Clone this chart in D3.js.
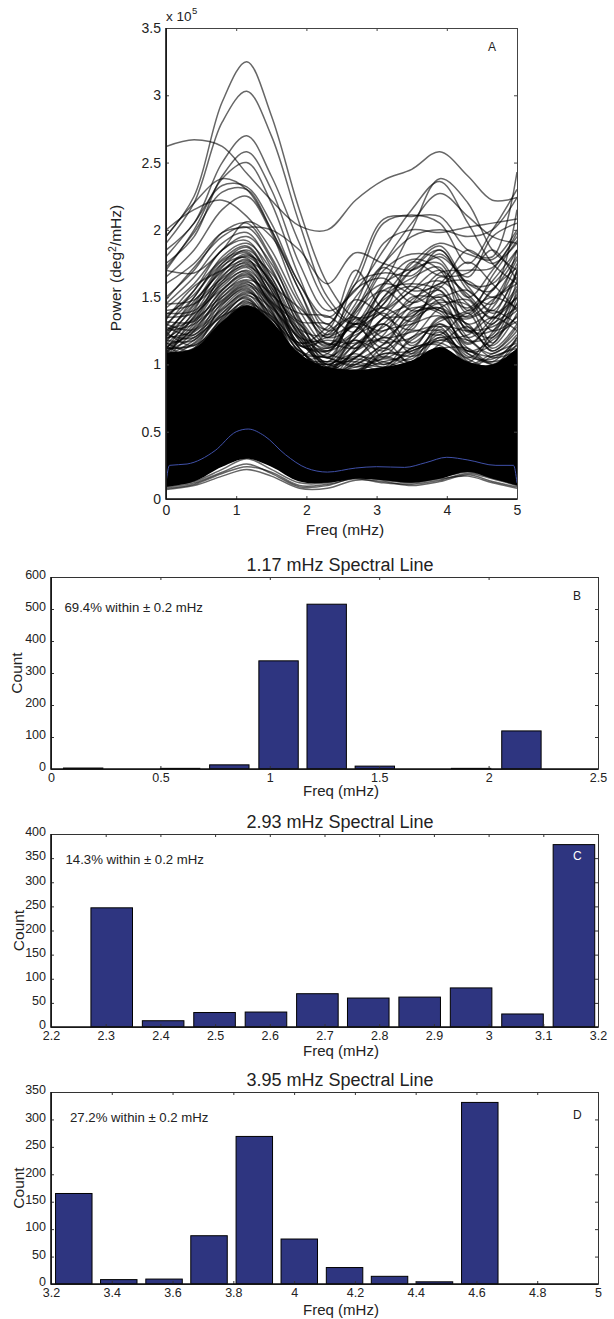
<!DOCTYPE html>
<html><head><meta charset="utf-8">
<script src="https://cdn.jsdelivr.net/npm/d3@7"></script>
<style>html,body{margin:0;background:#fff}svg{display:block}text{font-family:"Liberation Sans",Arial,sans-serif;fill:#222}</style>
</head><body><div id="c"></div>
<script>
// Panel A: frequency knots (mHz) and traces in units of 1e5 deg^2/mHz
const freqKnots=[0,0.4,0.8,1.15,1.5,1.9,2.3,2.7,3.1,3.5,3.9,4.3,4.65,5];
const bandUpper=[1.09,1.12,1.32,1.44,1.32,1.08,0.98,0.96,0.98,1.03,1.13,1.02,1.0,1.12];
const bandLower=[0.09,0.13,0.24,0.3,0.24,0.13,0.12,0.15,0.14,0.12,0.15,0.2,0.15,0.1];
const meanFreq=[0,0.05,0.3,0.7,1.0,1.17,1.4,1.7,2.0,2.3,2.7,3.0,3.4,3.7,4.0,4.3,4.7,4.95,5];
const meanPower=[0.12,0.25,0.26,0.36,0.5,0.52,0.47,0.33,0.23,0.2,0.23,0.24,0.235,0.27,0.31,0.29,0.25,0.25,0.12];
const traces=[
[1.95,2.25,2.95,3.25,2.85,2.15,1.6,1.35,1.4,1.55,1.7,1.5,1.35,1.5],
[1.9,2.2,2.8,3.03,2.7,2.05,1.5,1.3,1.45,1.7,1.85,1.6,1.6,1.85],
[2.62,2.67,2.62,2.42,2.22,2.03,2.0,2.22,2.37,2.45,2.58,2.4,2.22,2.24],
[1.85,2.05,2.5,2.7,2.4,1.9,1.45,1.3,1.6,2.0,2.38,2.2,1.85,1.7],
[1.75,1.95,2.4,2.58,2.3,1.75,1.4,1.55,1.85,2.15,2.36,2.05,1.75,1.6],
[1.7,2.0,2.38,2.5,2.2,1.65,1.25,1.4,1.75,2.05,2.27,2.1,1.95,1.9],
[1.95,2.2,2.38,2.3,2.0,1.6,1.3,1.65,2.08,2.1,2.1,1.85,1.8,2.43],
[1.8,2.05,2.33,2.32,2.05,1.6,1.35,1.6,2.05,2.11,2.05,1.75,2.0,2.3],
[1.72,1.98,2.28,2.3,2.0,1.55,1.22,1.45,1.9,2.0,1.98,2.02,2.05,2.08],
[2.0,2.15,2.22,2.1,1.85,1.45,1.2,1.5,1.75,1.95,2.0,1.95,2.0,2.24],
[1.65,1.85,2.15,2.25,1.98,1.48,1.2,1.3,1.6,1.72,1.88,1.6,1.55,2.15],
[1.6,1.75,1.98,2.02,2.0,1.85,1.6,1.83,1.75,1.7,1.8,1.65,1.95,2.05],
[1.7,1.68,1.85,2.06,1.95,1.55,1.15,1.25,1.5,1.75,1.9,1.82,1.78,2.0],
[1.5,1.7,1.98,2.05,1.8,1.4,1.15,1.35,1.7,1.82,1.78,1.5,1.7,1.95],
[1.48,1.72,1.95,2.02,1.78,1.32,1.05,1.25,1.4,1.6,1.85,1.55,1.45,1.85],
[1.45,1.65,1.9,1.98,1.72,1.3,1.1,1.4,1.72,1.55,1.6,1.85,1.75,1.9],
[1.42,1.6,1.85,1.95,1.75,1.35,1.0,1.2,1.45,1.7,1.75,1.4,1.55,1.8],
[1.35,1.55,1.85,1.92,1.65,1.25,1.12,1.3,1.25,1.45,1.68,1.7,1.72,1.98],
[1.3,1.5,1.8,1.9,1.7,1.28,0.98,1.1,1.35,1.55,1.62,1.45,1.3,1.7],
[1.28,1.55,1.78,1.88,1.62,1.2,1.02,1.25,1.55,1.6,1.55,1.3,1.42,1.75],
[1.25,1.45,1.75,1.87,1.6,1.22,1.08,1.05,1.3,1.48,1.6,1.62,1.5,1.65],
[1.22,1.42,1.72,1.85,1.65,1.25,0.95,1.15,1.2,1.35,1.52,1.42,1.62,1.85],
[1.2,1.5,1.75,1.83,1.58,1.15,1.1,1.32,1.42,1.32,1.58,1.28,1.2,1.55],
[1.18,1.38,1.68,1.82,1.55,1.18,1.0,1.05,1.22,1.5,1.5,1.55,1.38,1.5],
[1.45,1.48,1.7,1.8,1.6,1.22,1.05,1.38,1.55,1.4,1.42,1.2,1.35,1.7],
[1.15,1.35,1.65,1.78,1.5,1.12,0.95,1.1,1.35,1.45,1.55,1.25,1.25,1.45],
[1.12,1.32,1.62,1.76,1.55,1.15,1.1,1.18,1.1,1.28,1.48,1.35,1.48,1.6],
[1.4,1.45,1.62,1.74,1.48,1.08,0.95,1.25,1.48,1.58,1.45,1.1,1.15,1.5],
[1.1,1.3,1.6,1.72,1.46,1.1,1.05,1.0,1.15,1.2,1.42,1.48,1.25,1.35],
[1.35,1.38,1.58,1.7,1.5,1.18,1.0,1.15,1.28,1.42,1.38,1.15,1.32,1.58],
[1.08,1.28,1.55,1.68,1.42,1.02,0.9,1.05,1.2,1.12,1.35,1.3,1.1,1.28],
[1.32,1.32,1.55,1.66,1.4,1.05,1.08,1.3,1.05,1.18,1.32,1.4,1.5,1.42],
[1.05,1.25,1.52,1.65,1.45,1.12,0.92,0.95,1.1,1.3,1.45,1.2,1.08,1.22],
[1.28,1.22,1.5,1.62,1.38,1.0,0.88,1.12,1.3,1.08,1.28,1.25,1.28,1.4],
[1.25,1.3,1.48,1.6,1.35,1.08,1.05,0.98,1.05,1.25,1.22,1.38,1.12,1.3],
[1.22,1.2,1.46,1.58,1.4,0.98,0.9,1.02,1.15,1.38,1.4,1.08,1.02,1.2],
[1.2,1.25,1.45,1.56,1.32,1.02,0.98,1.18,1.0,1.12,1.18,1.22,1.35,1.25],
[1.18,1.18,1.42,1.55,1.3,0.95,0.85,0.92,1.12,1.02,1.3,1.12,1.0,1.15],
[1.15,1.22,1.4,1.54,1.36,1.05,1.0,1.08,0.98,1.2,1.25,1.02,1.2,1.32],
[1.12,1.15,1.38,1.52,1.28,0.92,0.88,1.0,1.08,1.1,1.2,1.18,1.05,1.1],
[1.1,1.2,1.36,1.5,1.25,1.0,0.95,1.1,1.18,1.0,1.15,1.28,1.1,1.25],
[1.08,1.12,1.34,1.46,1.34,1.1,0.98,0.96,1.02,1.08,1.24,1.06,1.04,1.18],
[1.06,1.1,1.32,1.44,1.26,1.04,1.02,1.02,0.98,1.06,1.18,1.1,1.06,1.14],
[1.12,1.14,1.3,1.48,1.3,1.06,0.94,0.98,1.04,1.04,1.22,1.0,1.08,1.16],
[1.04,1.16,1.36,1.42,1.36,1.12,0.96,1.04,1.0,1.1,1.16,1.04,0.98,1.2],
[1.1,1.08,1.28,1.45,1.28,1.02,1.0,0.94,1.06,1.0,1.2,1.08,1.02,1.08],
[1.02,1.12,1.33,1.47,1.24,1.08,0.92,1.0,0.96,1.12,1.14,0.98,1.06,1.12],
[1.14,1.06,1.26,1.43,1.32,1.0,0.98,1.06,1.02,0.98,1.26,1.02,0.96,1.1],
[1.06,1.18,1.38,1.49,1.22,1.1,0.94,0.92,1.08,1.06,1.12,1.12,1.0,1.06],
[1.16,1.1,1.35,1.51,1.38,1.14,1.12,1.22,1.3,1.16,1.3,1.1,1.18,1.36],
[1.13,1.24,1.41,1.53,1.42,1.2,1.16,1.12,1.25,1.3,1.36,1.16,1.3,1.42],
[1.24,1.14,1.44,1.57,1.34,1.16,1.2,1.28,1.12,1.34,1.42,1.26,1.14,1.38],
[1.09,1.27,1.47,1.59,1.44,1.06,1.24,1.35,1.2,1.24,1.28,1.05,1.24,1.52],
[1.19,1.33,1.5,1.61,1.46,1.24,1.06,1.2,1.38,1.14,1.34,1.34,1.4,1.3],
[1.3,1.26,1.53,1.63,1.52,1.14,1.18,1.16,1.34,1.36,1.5,1.18,1.22,1.62],
[1.03,1.36,1.56,1.67,1.47,1.3,1.14,1.34,1.16,1.4,1.46,1.44,1.16,1.46],
[1.38,1.4,1.6,1.69,1.44,1.2,1.02,1.42,1.6,1.52,1.4,1.36,1.56,1.72],
[1.16,1.44,1.64,1.73,1.57,1.26,1.22,1.48,1.36,1.26,1.65,1.52,1.34,1.56],
[1.26,1.34,1.66,1.75,1.53,1.32,1.3,1.12,1.5,1.64,1.72,1.24,1.46,1.78],
[1.33,1.58,1.7,1.77,1.62,1.16,1.28,1.56,1.64,1.46,1.57,1.76,1.6,1.4],
[1.11,1.4,1.73,1.79,1.52,1.38,1.36,1.24,1.58,1.78,1.7,1.38,1.66,1.92],
[1.23,1.47,1.69,1.81,1.68,1.34,1.13,1.6,1.68,1.66,1.82,1.58,1.4,1.68],
[1.37,1.52,1.77,1.84,1.6,1.42,1.26,1.7,1.42,1.76,1.66,1.68,1.85,1.62],
[0.07,0.1,0.17,0.22,0.17,0.08,0.08,0.14,0.13,0.1,0.13,0.18,0.13,0.09],
[0.08,0.11,0.19,0.24,0.2,0.1,0.11,0.15,0.12,0.11,0.14,0.19,0.15,0.1],
[0.09,0.12,0.2,0.26,0.19,0.09,0.1,0.16,0.14,0.12,0.15,0.17,0.12,0.08],
[0.1,0.13,0.22,0.3,0.22,0.12,0.12,0.17,0.15,0.13,0.16,0.2,0.16,0.11]
];
// Panels B, C, D: histogram bin centres and counts
const binsB=[0.147,0.369,0.59,0.815,1.04,1.26,1.48,1.7,1.92,2.15];
const countsB=[3,0,2,13,338,515,9,0,2,119];
const binsC=[2.311,2.405,2.499,2.593,2.687,2.78,2.874,2.968,3.062,3.156];
const countsC=[247,13,30,31,69,60,62,81,27,378];
const binsD=[3.275,3.423,3.572,3.72,3.869,4.017,4.166,4.314,4.462,4.611];
const countsD=[165,8,9,88,269,82,30,14,4,331];
const ticksAX=[0,1,2,3,4,5], ticksAY=[0,0.5,1,1.5,2,2.5,3,3.5];
const ticksBX=[0,0.5,1,1.5,2,2.5], ticksBY=[0,100,200,300,400,500,600];
const ticksCX=[2.2,2.3,2.4,2.5,2.6,2.7,2.8,2.9,3,3.1,3.2], ticksCY=[0,50,100,150,200,250,300,350,400];
const ticksDX=[3.2,3.4,3.6,3.8,4,4.2,4.4,4.6,4.8,5], ticksDY=[0,50,100,150,200,250,300,350];

const svg=d3.select('#c').append('svg').attr('width',614).attr('height',1319);

function frame(g,x,y,xt,yt,fs,ink,pad,ydy){
  const [x0,x1]=x.range(),[y0,y1]=y.range();
  const mk=(ax,t,vals,lab,p)=>{
    const a=g.append('g').attr('transform',t).call(ax.tickValues(vals).tickSizeInner(-3).tickSizeOuter(0).tickPadding(p).tickFormat(lab?d=>String(d):''));
    a.selectAll('.domain').attr('stroke',ink).attr('stroke-width',1);
    a.selectAll('line').attr('stroke',ink);
    a.selectAll('text').attr('font-size',fs).attr('fill','#222').style('font-family','"Liberation Sans",Arial,sans-serif');
    return a;
  };
  mk(d3.axisBottom(x),`translate(0,${y0})`,xt,true,pad);
  mk(d3.axisLeft(y),`translate(${x0},0)`,yt,true,5).selectAll('text').attr('dy',ydy);
  mk(d3.axisTop(x),`translate(0,${y1})`,xt,false,0);
  mk(d3.axisRight(y),`translate(${x1},0)`,yt,false,0);
  g.append('path').attr('d',`M${x0},${y1}V${y0}H${x1}`).attr('fill','none').attr('stroke','#111').attr('stroke-width',1.6);
}
const T=(g,s,x,y,fs,o={})=>g.append('text').text(s).attr('x',x).attr('y',y).attr('font-size',fs).attr('text-anchor',o.a||'start').style('fill',o.c||'#222').attr('transform',o.r?`rotate(-90,${x},${y})`:null);

// Panel A
{
  const g=svg.append('g');
  const x=d3.scaleLinear().domain([0,5]).range([166,517]);
  const y=d3.scaleLinear().domain([0,3.5]).range([499,28]);
  svg.append('clipPath').attr('id','ca').append('rect').attr('x',166).attr('y',28).attr('width',351).attr('height',471);
  const p=g.append('g').attr('clip-path','url(#ca)');
  const cv=d3.curveCatmullRom.alpha(0.5);
  p.append('path').datum(freqKnots)
    .attr('d',d3.area().x(d=>x(d)).y0((d,i)=>y(bandLower[i])).y1((d,i)=>y(bandUpper[i])).curve(cv))
    .attr('fill','#000');
  p.selectAll('path.t').data(traces).join('path').attr('class','t')
    .attr('d',d3.line().x((d,i)=>x(freqKnots[i])).y(d=>y(d)).curve(cv))
    .attr('fill','none').attr('stroke','#000').attr('stroke-opacity',0.6).attr('stroke-width',1.5);
  p.append('path').datum(meanPower)
    .attr('d',d3.line().x((d,i)=>x(meanFreq[i])).y(d=>y(d)).curve(d3.curveMonotoneX))
    .attr('fill','none').attr('stroke','#3f50a8').attr('stroke-width',1);
  frame(g,x,y,ticksAX,ticksAY,14,'#444',6,'0.32em');
  T(g,'x 10',166,21,13.5);
  T(g,'5',192,14,9.5);
  T(g,'A',488,51,12);
  T(g,'Freq (mHz)',345,535,15.5,{a:'middle'});
  const yl=T(g,'Power (deg',121,268,15.5,{r:1});
  yl.append('tspan').text('2').attr('dy',-5).attr('font-size',10.5);
  yl.append('tspan').text('/mHz)').attr('dy',5);
  yl.attr('text-anchor','middle');
}
// Panels B, C, D
function hist(o){
  const g=svg.append('g');
  const x=d3.scaleLinear().domain(o.dx).range([51,598]);
  const y=d3.scaleLinear().domain(o.dy).range([o.bottom,o.top]);
  g.selectAll('rect').data(o.counts).join('rect')
    .attr('x',(d,i)=>x(o.bins[i]-o.w/2)).attr('width',x(o.w)-x(0))
    .attr('y',d=>y(d)).attr('height',d=>y(0)-y(d))
    .attr('fill','#2e3580').attr('stroke','#000').attr('stroke-width',1);
  frame(g,x,y,o.xt,o.yt,12.5,'#333',4,'0.14em');
  T(g,o.title,340,o.top-6,18,{a:'middle'});
  T(g,o.note,o.nx,o.ny,13.2);
  T(g,o.letter,o.lx,o.ly,12,{c:o.lc});
  T(g,'Freq (mHz)',341,o.fy,15,{a:'middle'});
  T(g,'Count',o.cx,(o.top+o.bottom)/2,15.5,{a:'middle',r:1});
}
hist({dx:[0,2.5],dy:[0,600],bins:binsB,counts:countsB,w:0.18,xt:ticksBX,yt:ticksBY,top:577,bottom:769,title:'1.17 mHz Spectral Line',note:'69.4% within ± 0.2 mHz',nx:64.5,ny:612,letter:'B',lx:573,ly:600,lc:'#222',fy:796,cx:22});
hist({dx:[2.2,3.2],dy:[0,400],bins:binsC,counts:countsC,w:0.076,xt:ticksCX,yt:ticksCY,top:834,bottom:1027,title:'2.93 mHz Spectral Line',note:'14.3% within ± 0.2 mHz',nx:65.5,ny:864,letter:'C',lx:573,ly:860,lc:'#fff',fy:1056,cx:24});
hist({dx:[3.2,5],dy:[0,350],bins:binsD,counts:countsD,w:0.12,xt:ticksDX,yt:ticksDY,top:1092,bottom:1284,title:'3.95 mHz Spectral Line',note:'27.2% within ± 0.2 mHz',nx:70,ny:1122,letter:'D',lx:573,ly:1119,lc:'#222',fy:1315,cx:24});
</script></body></html>
